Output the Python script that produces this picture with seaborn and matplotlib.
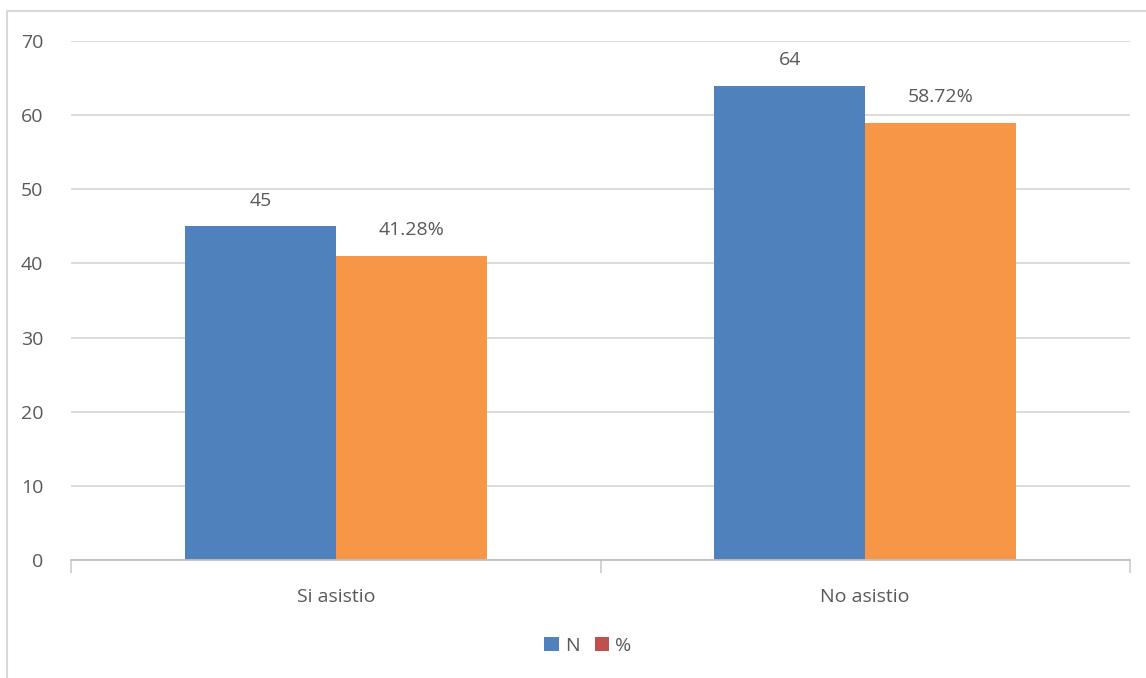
import matplotlib
matplotlib.use("Agg")
from matplotlib import pyplot as plt
from matplotlib.patches import Patch, Rectangle
import pandas as pd
import seaborn as sns

# data
categories = ["Si asistio", "No asistio"]
n_values = [45, 64]
pct_values = [41, 59]          # bar heights as drawn
pct_labels = ["41.28%", "58.72%"]
series = ["N", "%"]

bar_colors = ["#4F81BD", "#F79646"]
legend_colors = ["#4F81BD", "#C0504D"]
text_color = "#595959"

sns.set_theme(style="white")
plt.rcParams["font.family"] = ["Open Sans", "DejaVu Sans"]

df = pd.DataFrame({
    "cat": categories * 2,
    "serie": [series[0]] * 2 + [series[1]] * 2,
    "val": n_values + pct_values,
})

fig = plt.figure(figsize=(11.46, 6.78), dpi=100)
ax = fig.add_axes([0.062, 0.174, 0.924, 0.7655])

sns.barplot(data=df, x="cat", y="val", hue="serie", order=categories,
            hue_order=series, palette=bar_colors, width=0.57, gap=0,
            saturation=1, legend=False, ax=ax, edgecolor="none")

ax.set_ylim(0, 70)
ax.set_xlim(-0.5, 1.5)
ax.set_yticks(range(0, 71, 10))
ax.yaxis.grid(True, color="#D9D9D9", linewidth=1.3)
ax.set_axisbelow(True)
for s in ["top", "right", "left"]:
    ax.spines[s].set_visible(False)
ax.spines["bottom"].set_color("#BFBFBF")
ax.spines["bottom"].set_linewidth(1.3)
ax.set_xlabel("")
ax.set_ylabel("")

ax.set_xticks([0, 1])
ax.set_xticklabels(categories)
ax.set_xticks([-0.5, 0.5, 1.5], minor=True)
ax.tick_params(axis="x", which="major", bottom=False, length=0, pad=20,
               labelsize=14, labelcolor=text_color)
ax.tick_params(axis="x", which="minor", bottom=True, length=9, width=1.3,
               color="#D0D0D0", direction="out")
ax.tick_params(axis="y", length=0, pad=20, labelsize=14, labelcolor=text_color)

# value labels
labels = [str(v) for v in n_values] + pct_labels
for bar, lab in zip(ax.patches, labels):
    x = bar.get_x() + bar.get_width() / 2
    ax.annotate(lab, (x, bar.get_height()), xytext=(0, 12), textcoords="offset points",
                ha="center", va="bottom", fontsize=14, color=text_color)

handles = [Patch(facecolor=c, edgecolor="none") for c in legend_colors]
fig.legend(handles, series, loc="center", bbox_to_anchor=(0.513, 0.047), ncol=2,
           frameon=False, handlelength=0.75, handleheight=0.75, handletextpad=0.3,
           columnspacing=0.8, fontsize=14, labelcolor=text_color)

# chart area border
fig.patches.append(Rectangle((7 / 1146, -0.01), 1.1, 1 - 11 / 678 + 0.01,
                             transform=fig.transFigure, fill=False,
                             edgecolor="#D9D9D9", linewidth=1.5))

fig.savefig("out.png", dpi=100)
